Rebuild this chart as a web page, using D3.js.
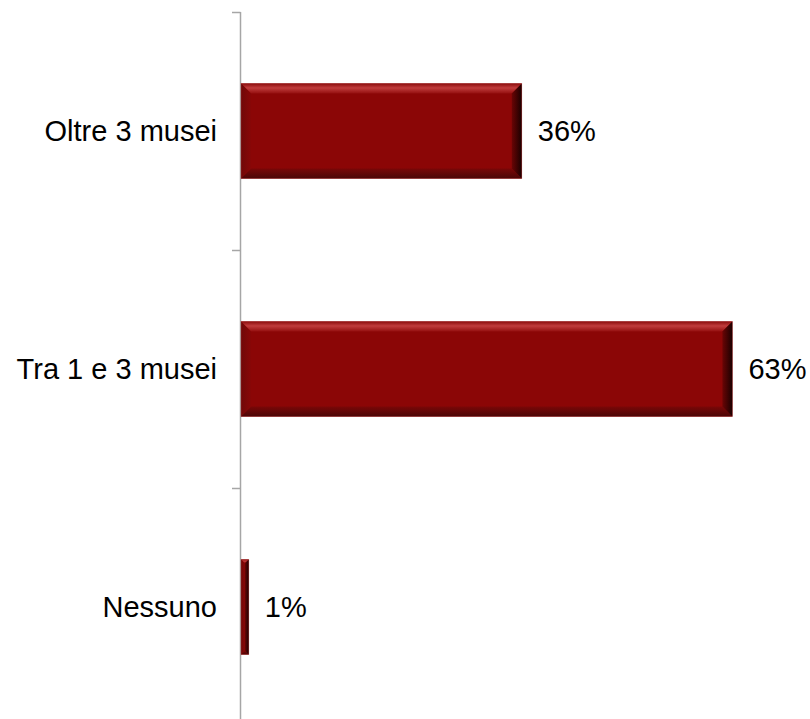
<!DOCTYPE html>
<html>
<head>
<meta charset="utf-8">
<script src="https://cdn.jsdelivr.net/npm/d3@7"></script>
<style>
  body { margin: 0; background: #fff; }
  text { font-family: "Liberation Sans", Arial, sans-serif; }
</style>
</head>
<body>
<div id="chart"></div>
<script>
// Chart data
const categories = ["Oltre 3 musei", "Tra 1 e 3 musei", "Nessuno"];
const values = [36, 63, 1];
const valueLabels = ["36%", "63%", "1%"];

const width = 810, height = 719;

const svg = d3.select("#chart").append("svg")
    .attr("width", width)
    .attr("height", height);

// Scales
const x = d3.scaleLinear().domain([0, 100]).range([241, 1021]);
const y = d3.scaleBand().domain(categories).range([12, 726]).paddingInner(0.6).paddingOuter(0.3);

// Gradients for the bevel edges
const defs = svg.append("defs");
function grad(id, x1, y1, x2, y2, stops) {
    const g = defs.append("linearGradient").attr("id", id)
        .attr("x1", x1).attr("y1", y1).attr("x2", x2).attr("y2", y2);
    stops.forEach(s => g.append("stop").attr("offset", s[0]).attr("stop-color", s[1]));
}
grad("bevTop", 0, 0, 0, 1, [[0, "#8a0c0c"], [0.45, "#c03c3c"], [1, "#951010"]]);
grad("bevBottom", 0, 0, 0, 1, [[0, "#7a0707"], [1, "#4a0606"]]);
grad("bevRight", 0, 0, 1, 0, [[0, "#6a0505"], [1, "#1a0000"]]);
grad("bevLeft", 0, 0, 1, 0, [[0, "#700808"], [1, "#880707"]]);

// Axis (category) with ticks at band boundaries
const axisG = svg.append("g");
axisG.append("line")
    .attr("x1", 240.5).attr("x2", 240.5)
    .attr("y1", 12).attr("y2", 726)
    .attr("stroke", "#a6a6a6").attr("stroke-width", 1.5);

const boundaries = d3.range(categories.length + 1).map(i => 12 + i * (726 - 12) / categories.length);
axisG.selectAll(".tick")
    .data(boundaries)
    .enter().append("line")
    .attr("x1", 232).attr("x2", 240.5)
    .attr("y1", d => Math.round(d) + 0.5).attr("y2", d => Math.round(d) + 0.5)
    .attr("stroke", "#a6a6a6").attr("stroke-width", 1.5);

// Bars with bevel
const bars = svg.selectAll(".bar")
    .data(categories.map((c, i) => ({ cat: c, val: values[i], label: valueLabels[i] })))
    .enter().append("g")
    .attr("class", "bar");

bars.each(function (d) {
    const g = d3.select(this);
    const x0 = x(0), x1 = x(d.val);
    const y0 = y(d.cat), y1 = y0 + y.bandwidth();
    const w = x1 - x0, h = y1 - y0;
    const b = Math.min(10, w / 2, h / 2);

    g.append("rect")
        .attr("x", x0).attr("y", y0).attr("width", w).attr("height", h)
        .attr("fill", "#8b0606");

    const pts = {
        top: [[x0, y0], [x1, y0], [x1 - b, y0 + b], [x0 + b, y0 + b]],
        bottom: [[x0 + b, y1 - b], [x1 - b, y1 - b], [x1, y1], [x0, y1]],
        left: [[x0, y0], [x0 + b, y0 + b], [x0 + b, y1 - b], [x0, y1]],
        right: [[x1 - b, y0 + b], [x1, y0], [x1, y1], [x1 - b, y1 - b]]
    };
    g.append("polygon").attr("points", pts.top.join(" ")).attr("fill", "url(#bevTop)");
    g.append("polygon").attr("points", pts.bottom.join(" ")).attr("fill", "url(#bevBottom)");
    g.append("polygon").attr("points", pts.left.join(" ")).attr("fill", "url(#bevLeft)");
    g.append("polygon").attr("points", pts.right.join(" ")).attr("fill", "url(#bevRight)");
    g.append("rect")
        .attr("x", x0).attr("y", y0).attr("width", w).attr("height", h)
        .attr("fill", "none").attr("stroke", "#b04848").attr("stroke-width", 0.6).attr("stroke-opacity", 0.6);
});

// Category labels
svg.selectAll(".cat-label")
    .data(categories)
    .enter().append("text")
    .attr("class", "cat-label")
    .attr("x", 217)
    .attr("y", d => y(d) + y.bandwidth() / 2)
    .attr("dy", "0.35em")
    .attr("text-anchor", "end")
    .attr("font-size", 29)
    .attr("fill", "#000")
    .text(d => d);

// Value labels
svg.selectAll(".val-label")
    .data(categories.map((c, i) => ({ cat: c, val: values[i], label: valueLabels[i] })))
    .enter().append("text")
    .attr("class", "val-label")
    .attr("x", d => x(d.val) + 16)
    .attr("y", d => y(d.cat) + y.bandwidth() / 2)
    .attr("dy", "0.35em")
    .attr("font-size", 29)
    .attr("fill", "#000")
    .text(d => d.label);
</script>
</body>
</html>
